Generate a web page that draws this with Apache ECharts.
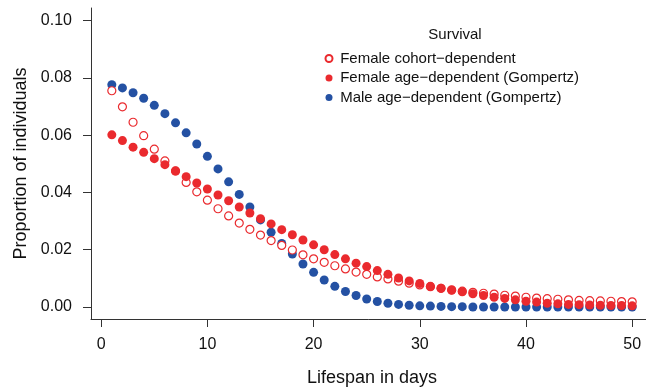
<!DOCTYPE html>
<html>
<head>
<meta charset="utf-8">
<script src="https://cdn.jsdelivr.net/npm/echarts@6/dist/echarts.min.js"></script>
<style>
  html, body { margin: 0; padding: 0; background: #fff; }
  #chart { width: 646px; height: 389px; }
</style>
</head>
<body>
<div id="chart"></div>
<script>
const days = [1,2,3,4,5,6,7,8,9,10,11,12,13,14,15,16,17,18,19,20,21,22,23,24,25,26,27,28,29,30,31,32,33,34,35,36,37,38,39,40,41,42,43,44,45,46,47,48,49,50];

const femaleCohort = [0.0755,0.0699,0.0645,0.0598,0.0551,0.0510,0.0475,0.0435,0.0402,0.0373,
  0.0343,0.0318,0.0293,0.0271,0.0251,0.0232,0.0215,0.0199,0.0182,0.0168,
  0.0156,0.0144,0.0133,0.0122,0.0114,0.0105,0.0098,0.0090,0.0083,0.0077,
  0.0071,0.0065,0.0060,0.0055,0.0051,0.0048,0.0045,0.0041,0.0038,0.0034,
  0.0031,0.0029,0.0027,0.0025,0.0023,0.0022,0.0021,0.0020,0.0019,0.0018];

const femaleGompertz = [0.0601,0.0581,0.0558,0.0540,0.0518,0.0497,0.0475,0.0455,0.0433,0.0412,
  0.0391,0.0371,0.0349,0.0328,0.0308,0.0290,0.0270,0.0252,0.0234,0.0217,
  0.0200,0.0183,0.0168,0.0153,0.0141,0.0127,0.0114,0.0101,0.0091,0.0082,
  0.0072,0.0065,0.0058,0.0053,0.0046,0.0040,0.0034,0.0030,0.0025,0.0020,
  0.0017,0.0013,0.0011,0.0009,0.0008,0.0007,0.0006,0.0005,0.0005,0.0004];

const maleGompertz = [0.0776,0.0765,0.0748,0.0729,0.0704,0.0675,0.0643,0.0608,0.0569,0.0526,
  0.0482,0.0437,0.0393,0.0349,0.0304,0.0261,0.0222,0.0185,0.0150,0.0121,
  0.0094,0.0072,0.0054,0.0040,0.0028,0.0019,0.0013,0.0009,0.0006,0.0004,
  0.0003,0.0002,0.0001,0.0001,0,0,0,0,0,0,
  0,0,0,0,0,0,0,0,0,0];

const xTicks = [0,10,20,30,40,50];
const yTicks = [0,0.02,0.04,0.06,0.08,0.10];

const seriesNames = ['Female cohort\u2212dependent','Female age\u2212dependent (Gompertz)','Male age\u2212dependent (Gompertz)'];
const legendTitle = 'Survival';
const xName = 'Lifespan in days';
const yName = 'Proportion of individuals';

const RED = '#EA2A2E';
const BLUE = '#2451A3';
const FONT = '"Liberation Sans", Arial, sans-serif';

function pairs(vals) { return days.map((d, i) => [d, vals[i]]); }

const chart = echarts.init(document.getElementById('chart'), null, {renderer: 'canvas'});
chart.setOption({
  animation: false,
  backgroundColor: '#fff',
  textStyle: { fontFamily: FONT },
  grid: { left: 91, top: 8, height: 311, width: 562, containLabel: false, outerBoundsMode: 'none' },
  graphic: [{
    type: 'text', x: 455, y: 35,
    style: { text: legendTitle, fontSize: 15, fontFamily: FONT, fill: '#111', align: 'center', verticalAlign: 'middle' }
  }],
  legend: {
    data: seriesNames,
    orient: 'vertical',
    left: 324.5, top: 51,
    itemWidth: 12.4, itemHeight: 7,
    itemGap: 4.5,
    padding: 0,
    selectedMode: false,
    textStyle: { fontSize: 15, fontFamily: FONT, color: '#111', lineHeight: 15 }
  },
  xAxis: {
    type: 'value', min: -0.96, max: 51.96,
    name: xName, nameLocation: 'middle', nameGap: 50,
    nameTextStyle: { fontSize: 18, fontFamily: FONT, color: '#111' },
    axisLine: { show: true, onZero: false, lineStyle: { color: '#333', width: 1 } },
    axisTick: { show: true, length: 8, customValues: xTicks, lineStyle: { color: '#333' } },
    axisLabel: { customValues: xTicks, fontSize: 16, fontFamily: FONT, color: '#111', margin: 18 },
    splitLine: { show: false }
  },
  yAxis: {
    type: 'value', min: -0.0042, max: 0.1044,
    name: yName, nameLocation: 'middle', nameGap: 46, nameRotate: 90,
    nameTextStyle: { fontSize: 18, fontFamily: FONT, color: '#111' },
    axisLine: { show: true, onZero: false, lineStyle: { color: '#333', width: 1 } },
    axisTick: { show: true, length: 8, customValues: yTicks, lineStyle: { color: '#333' } },
    axisLabel: { customValues: yTicks, fontSize: 16, fontFamily: FONT, color: '#111', margin: 19,
      formatter: v => v.toFixed(2) },
    splitLine: { show: false }
  },
  series: [
    {
      name: seriesNames[2], type: 'scatter', data: pairs(maleGompertz),
      symbol: 'circle', symbolSize: 9, itemStyle: { color: BLUE, opacity: 1 }, z: 2
    },
    {
      name: seriesNames[0], type: 'scatter', data: pairs(femaleCohort),
      symbol: 'circle', symbolSize: 8,
      itemStyle: { color: '#fff', borderColor: RED, borderWidth: 1.2, opacity: 1 }, z: 3
    },
    {
      name: seriesNames[1], type: 'scatter', data: pairs(femaleGompertz),
      symbol: 'circle', symbolSize: 9, itemStyle: { color: RED, opacity: 1 }, z: 4
    }
  ]
});
</script>
</body>
</html>
